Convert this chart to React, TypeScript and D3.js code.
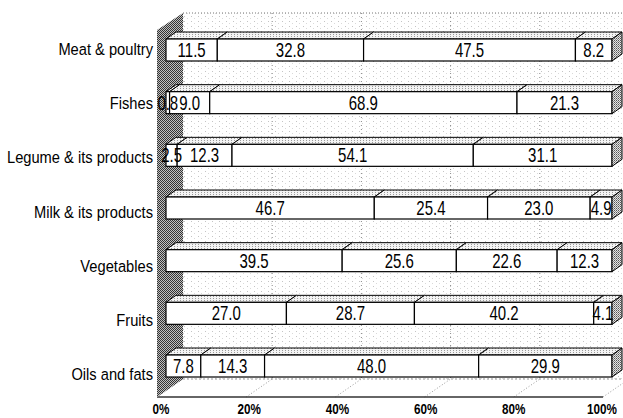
import React from "react";
import * as d3 from "d3";

const categories = [
  "Meat & poultry",
  "Fishes",
  "Legume & its products",
  "Milk & its products",
  "Vegetables",
  "Fruits",
  "Oils and fats",
];
const series1 = [11.5, 0.8, 2.5, 46.7, 39.5, 27.0, 7.8];
const series2 = [32.8, 9.0, 12.3, 25.4, 25.6, 28.7, 14.3];
const series3 = [47.5, 68.9, 54.1, 23.0, 22.6, 40.2, 48.0];
const series4 = [8.2, 21.3, 31.1, 4.9, 12.3, 4.1, 29.9];
const tickValues = [0, 20, 40, 60, 80, 100];

const W = 623;
const H = 418;
const FONT = "'Liberation Sans', Arial, sans-serif";

export default function App() {
  const keys = ["s1", "s2", "s3", "s4"];
  const rows = categories.map((c, i) => ({
    cat: c,
    s1: series1[i],
    s2: series2[i],
    s3: series3[i],
    s4: series4[i],
  }));
  const stacked = d3.stack<any>().keys(keys)(rows);

  // scales
  const xBar = d3.scaleLinear().domain([0, 100]).range([166, 612]);
  const xFront = d3.scaleLinear().domain([0, 100]).range([157, 603]);
  const xBack = d3.scaleLinear().domain([0, 100]).range([183, 629]);
  const xTickLabel = d3.scaleLinear().domain([0, 100]).range([161, 602]);
  const yBar = d3.scalePoint<string>().domain(categories).range([50, 366]);
  const yLabel = d3.scalePoint<string>().domain(categories).range([49, 374]);

  const barH = 22;
  const dx = 10;
  const dy = 7;
  const fmt = d3.format(".1f");

  const wallTop = 13;
  const floorBackY = 379;
  const floorFrontY = 397;
  const wallFrontTop = 30;

  return (
    <svg width={W} height={H} style={{ position: "absolute", left: 0, top: 0, background: "#fff" }}>
      <defs>
        <pattern id="wallPat" width="2" height="2" patternUnits="userSpaceOnUse">
          <rect width="2" height="2" fill="#c0c0c0" />
          <rect x="0" y="0" width="1" height="1" fill="#333" />
          <rect x="1" y="1" width="1" height="1" fill="#333" />
        </pattern>
        <pattern id="endPat" width="2" height="2" patternUnits="userSpaceOnUse">
          <rect width="2" height="2" fill="#e4e4e4" />
          <rect x="0" y="0" width="1" height="1" fill="#555" />
          <rect x="1" y="1" width="1" height="1" fill="#8a8a8a" />
        </pattern>
        <pattern id="topPat" width="3" height="2" patternUnits="userSpaceOnUse">
          <rect width="3" height="2" fill="#f4f4f4" />
          <rect x="0" y="0" width="1" height="1" fill="#9a9a9a" />
        </pattern>
        <pattern id="backPat" width="7" height="5" patternUnits="userSpaceOnUse">
          <rect width="7" height="5" fill="#ffffff" />
          <rect x="2" y="1" width="1" height="1" fill="#c4c4c4" />
          <rect x="5" y="3" width="1" height="1" fill="#dadada" />
        </pattern>
      </defs>

      {/* back wall */}
      <rect x={xBack(0)} y={wallTop} width={xBack(100) - xBack(0)} height={floorBackY - wallTop} fill="url(#backPat)" />
      <line x1={xBack(0)} x2={xBack(100)} y1={wallTop} y2={wallTop} stroke="#777" strokeDasharray="1,2" />
      {tickValues.map((t) => (
        <line
          key={"g" + t}
          x1={xBack(t)}
          x2={xBack(t)}
          y1={wallTop}
          y2={floorBackY}
          stroke="#888"
          strokeDasharray="1,3"
        />
      ))}

      {/* floor */}
      <line x1={xBack(0)} x2={xBack(100)} y1={floorBackY} y2={floorBackY} stroke="#999" strokeDasharray="2,2" />
      {tickValues.map((t) => (
        <line
          key={"f" + t}
          x1={xFront(t)}
          y1={floorFrontY}
          x2={xBack(t)}
          y2={floorBackY}
          stroke="#999"
          strokeDasharray="1,2"
        />
      ))}
      <line x1={xFront(0)} x2={xFront(100)} y1={floorFrontY} y2={floorFrontY} stroke="#333" strokeWidth={1.3} />

      {/* left wall */}
      <polygon
        points={`${xFront(0)},${wallFrontTop} ${xBack(0)},${wallTop} ${xBack(0)},${floorBackY} ${xFront(0)},${floorFrontY}`}
        fill="url(#wallPat)"
      />

      {/* bars */}
      {categories.map((c, i) => {
        const cy = yBar(c) as number;
        const top = cy - barH / 2;
        const bot = cy + barH / 2;
        return (
          <g key={c}>
            {stacked.map((s) => {
              const d = s[i];
              const x0 = xBar(d[0]);
              const x1 = xBar(d[1]);
              return (
                <g key={s.key}>
                  <polygon
                    points={`${x0},${top} ${x0 + dx},${top - dy} ${x1 + dx},${top - dy} ${x1},${top}`}
                    fill="url(#topPat)"
                    stroke="#000"
                    strokeWidth={1}
                    strokeLinejoin="round"
                  />
                  <rect x={x0} y={top} width={x1 - x0} height={barH} fill="#fff" stroke="#000" strokeWidth={1.2} />
                </g>
              );
            })}
            {(() => {
              const x1 = xBar(100);
              return (
                <polygon
                  points={`${x1},${top} ${x1 + dx},${top - dy} ${x1 + dx},${bot - dy} ${x1},${bot}`}
                  fill="url(#endPat)"
                  stroke="#000"
                  strokeWidth={1}
                />
              );
            })()}
            {stacked.map((s) => {
              const d = s[i];
              const xm = xBar((d[0] + d[1]) / 2);
              return (
                <text
                  key={"t" + s.key}
                  transform={`translate(${xm},${cy + 7}) scale(0.75,1)`}
                  textAnchor="middle"
                  fontFamily={FONT}
                  fontSize={20}
                  fill="#000"
                >
                  {fmt(d[1] - d[0])}
                </text>
              );
            })}
          </g>
        );
      })}

      {/* category labels */}
      {categories.map((c) => (
        <text
          key={"l" + c}
          transform={`translate(153,${(yLabel(c) as number) + 6}) scale(0.89,1)`}
          textAnchor="end"
          fontFamily={FONT}
          fontSize={16.5}
          fill="#000"
        >
          {c}
        </text>
      ))}

      {/* axis tick labels */}
      {tickValues.map((t) => (
        <text
          key={"x" + t}
          transform={`translate(${xTickLabel(t)},${414}) scale(0.78,1)`}
          textAnchor="middle"
          fontFamily={FONT}
          fontSize={15}
          fontWeight="bold"
          fill="#000"
        >
          {t + "%"}
        </text>
      ))}
    </svg>
  );
}
